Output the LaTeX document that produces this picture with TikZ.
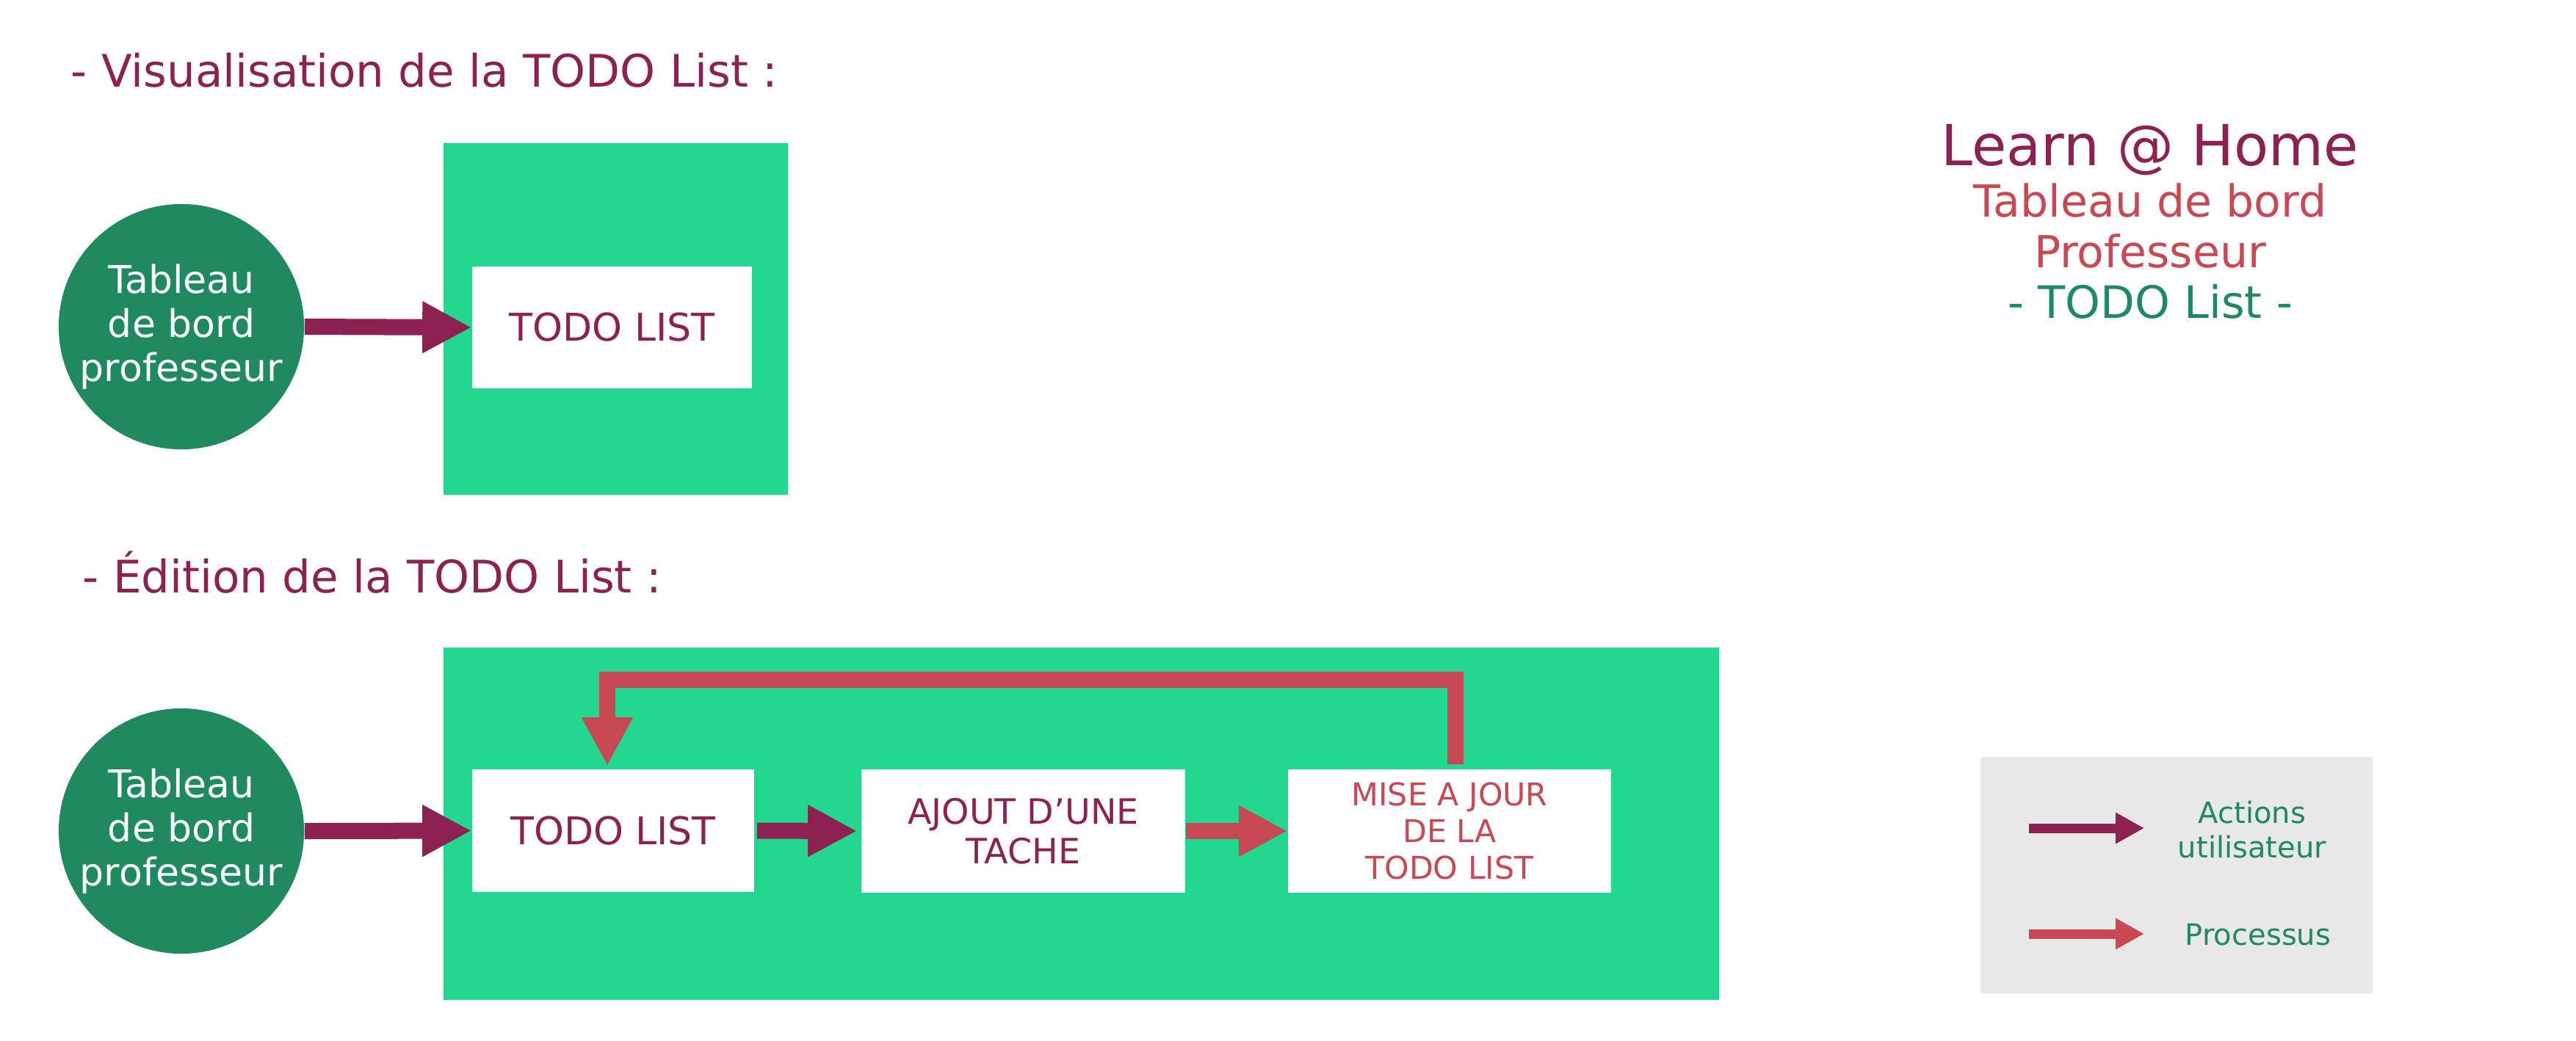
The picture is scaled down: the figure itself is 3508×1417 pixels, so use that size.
\documentclass[tikz,border=0pt]{standalone}
\usepackage{fontspec}
\setmainfont{DejaVu Sans}
\usetikzlibrary{arrows.meta,calc}
\definecolor{plum}{RGB}{139,34,82}
\definecolor{rose}{RGB}{200,72,84}
\definecolor{mint}{RGB}{35,216,142}
\definecolor{forest}{RGB}{30,138,94}
\definecolor{lgray}{RGB}{232,232,232}
\newdimen\pxu \pxu=0.01cm
\newcommand\fs[2]{\fontsize{#1}{#2}\selectfont}
\tikzset{
  greenbox/.style={fill=mint, inner sep=0pt, draw=none},
  whitebox/.style={fill=white, inner sep=0pt, align=center},
  dashcircle/.style={circle, fill=forest, minimum size=3.34cm, inner sep=0pt, text=white, align=center, font=\fs{14.8pt}{17.07pt}},
  userarrow/.style={draw=plum, line width=0.22cm, -{Triangle[length=0.67cm,width=0.66cm]}},
  procarrow/.style={draw=rose, line width=0.22cm, line join=miter, -{Triangle[length=0.66cm,width=0.65cm]}},
  legarrow/.style={line width=0.13cm, -{Triangle[length=0.39cm,width=0.40cm]}},
  sectitle/.style={anchor=base west, text=plum, inner sep=0pt, font=\fs{17.36pt}{20pt}},
  legtext/.style={text=forest, align=center, inner sep=0pt, font=\fs{11.4pt}{13.1pt}},
}
\begin{document}
\begin{tikzpicture}[x=0.01cm,y=-0.01cm]
\path[use as bounding box] (0,0) rectangle (3508,1417);

% titles
\node[sectitle] (t1) at (96,118) {- Visualisation de la TODO List :};
\node[sectitle] (t2) at (112,807) {- Édition de la TODO List :};

% right heading
\node[anchor=base, inner sep=0pt, text=plum, font=\fs{21.9pt}{25pt}] (h1) at (2928,225) {Learn @ Home};
\node[anchor=base, inner sep=0pt, text=rose, font=\fs{17.1pt}{20pt}] (h2) at (2928,295) {Tableau de bord};
\node[anchor=base, inner sep=0pt, text=rose, font=\fs{17.1pt}{20pt}] (h3) at (2928,364) {Professeur};
\node[anchor=base, inner sep=0pt, text=forest, font=\fs{17.3pt}{20pt}] (h4) at (2928,433) {- TODO List -};

% section 1
\node[greenbox, minimum width=4.69cm, minimum height=4.79cm] (g1) at (838.5,434.5) {};
\node[whitebox, minimum width=3.81cm, minimum height=1.66cm, text=plum, font=\fs{14.8pt}{17pt}] (todo1) at (833.5,446) {TODO LIST};
\node[dashcircle] (dash1) at (247,445) {Tableau\\de bord\\professeur};
\draw[userarrow] (dash1.east) -- (todo1.west);

% section 2
\node[greenbox, minimum width=17.36cm, minimum height=4.80cm] (g2) at (1472,1122) {};
\node[whitebox, minimum width=3.84cm, minimum height=1.67cm, text=plum, font=\fs{14.8pt}{17pt}] (todo2) at (835,1131.5) {TODO LIST};
\node[whitebox, minimum width=4.41cm, minimum height=1.68cm, text=plum, font=\fs{13.5pt}{15.4pt}] (ajout) at (1393.5,1132) {AJOUT D’UNE\\TACHE};
\node[whitebox, minimum width=4.40cm, minimum height=1.68cm, text=rose, font=\fs{12.15pt}{14.2pt}] (mise) at (1974,1132) {MISE A JOUR\\DE LA\\TODO LIST};
\node[dashcircle] (dash2) at (247,1132) {Tableau\\de bord\\professeur};
\draw[userarrow] (dash2.east) -- (todo2.west);
\draw[userarrow, shorten >=0.05cm, shorten <=0.03cm] (todo2.east) -- (ajout.west);
\draw[procarrow] (ajout.east) -- (mise.west);
\draw[procarrow] ([xshift=0.08cm,yshift=0.06cm]mise.north) -- ++(0,-115) -| ([xshift=-0.08cm,yshift=0.04cm]todo2.north);

% legend
\node[fill=lgray, minimum width=5.34cm, minimum height=3.22cm, inner sep=0pt] (legend) at (2964,1192) {};
\coordinate (la1) at (2763,1128);
\coordinate (la2) at (2920,1128);
\coordinate (lb1) at (2763,1272);
\coordinate (lb2) at (2920,1272);
\draw[legarrow, draw=plum] (la1) -- (la2);
\draw[legarrow, draw=rose] (lb1) -- (lb2);
\node[legtext] (lta) at (3067,1130) {Actions\\utilisateur};
\node[legtext, anchor=base] (ltb) at (3075,1287) {Processus};
\end{tikzpicture}
\end{document}
